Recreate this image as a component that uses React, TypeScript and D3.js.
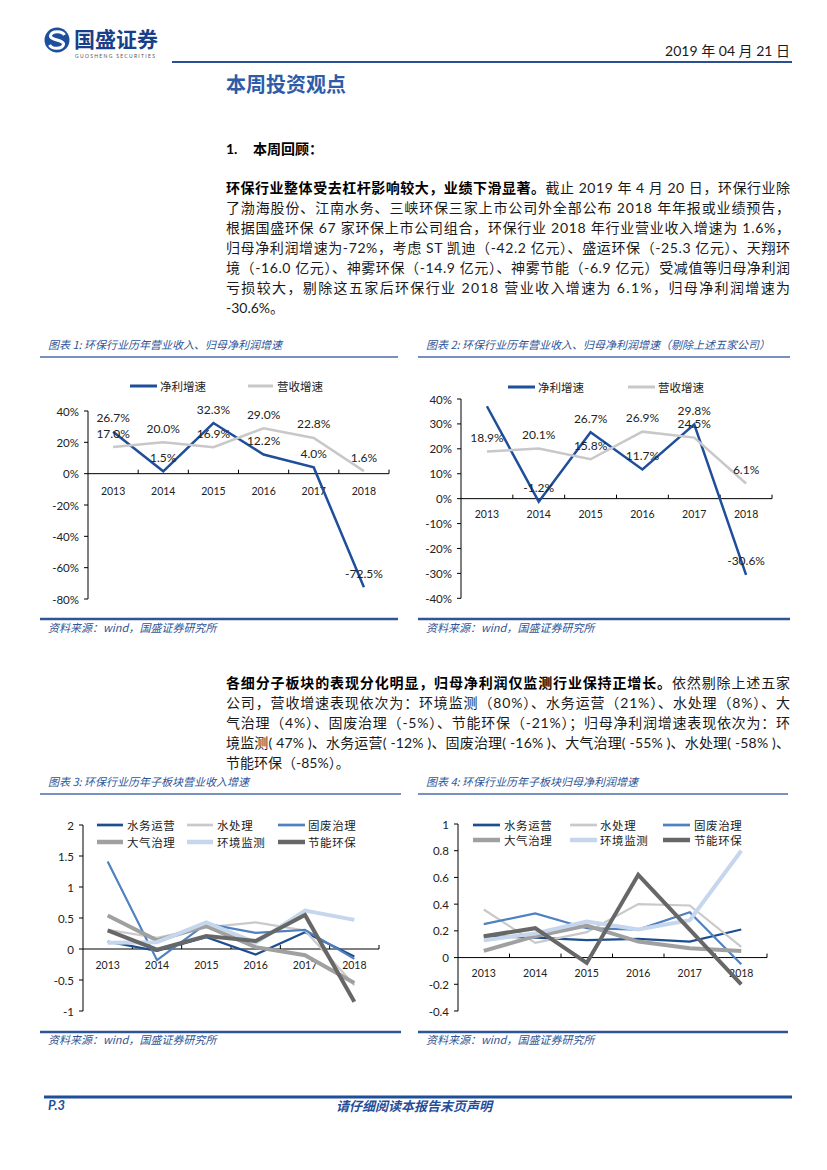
import React from 'react';
import * as d3 from 'd3';

// ---- data ----
const YEARS = ['2013', '2014', '2015', '2016', '2017', '2018'];

// chart 1: whole industry
const C1_PROFIT = [26.7, 1.5, 32.3, 12.2, 4.0, -72.5];
const C1_REVENUE = [17.0, 20.0, 16.9, 29.0, 22.8, 1.6];
const C1_TICKS = [40, 20, 0, -20, -40, -60, -80];

// chart 2: excluding five companies (2013 profit point carries no label)
const C2_PROFIT = [37.1, -1.2, 26.7, 11.7, 29.8, -30.6];
const C2_PROFIT_SHOW = [false, true, true, true, true, true];
const C2_REVENUE = [18.9, 20.1, 15.8, 26.9, 24.5, 6.1];
const C2_TICKS = [40, 30, 20, 10, 0, -10, -20, -30, -40];

// chart 3: sub-sectors
const C3_WATER_OPS = [0.12, -0.03, 0.19, -0.09, 0.27, -0.12];
const C3_WATER_TREAT = [0.31, 0.18, 0.35, 0.43, 0.30, -0.58];
const C3_SOLID = [1.41, -0.18, 0.41, 0.26, 0.31, -0.16];
const C3_AIR = [0.54, 0.14, 0.37, 0.03, -0.10, -0.55];
const C3_MONITOR = [0.10, 0.11, 0.43, 0.10, 0.62, 0.47];
const C3_ENERGY = [0.30, -0.01, 0.21, 0.13, 0.55, -0.85];
const C3_TICKS = [2, 1.5, 1, 0.5, 0, -0.5, -1];

// chart 4: sub-sectors
const C4_WATER_OPS = [0.16, 0.15, 0.13, 0.14, 0.12, 0.21];
const C4_WATER_TREAT = [0.36, 0.11, 0.19, 0.40, 0.39, 0.08];
const C4_SOLID = [0.25, 0.33, 0.22, 0.21, 0.34, -0.05];
const C4_AIR = [0.05, 0.16, 0.24, 0.12, 0.07, 0.05];
const C4_MONITOR = [0.13, 0.18, 0.27, 0.21, 0.28, 0.80];
const C4_ENERGY = [0.16, 0.22, -0.04, 0.62, 0.21, -0.20];
const C4_TICKS = [1, 0.8, 0.6, 0.4, 0.2, 0, -0.2, -0.4];

const SECTORS = ['水务运营', '水处理', '固废治理', '大气治理', '环境监测', '节能环保'];
const SECTOR_COLORS = ['#1f4e8f', '#c9c9c9', '#4f80c1', '#a0a0a0', '#c6d6ec', '#676767'];
const SECTOR_WIDTHS = [2.2, 2.2, 2.2, 4, 4, 4];

// ---- page text ----
type Seg = { t: string; b?: boolean };
const PARA1: Seg[][] = [
  [{ t: '环保行业整体受去杠杆影响较大，业绩下滑显著。', b: true }, { t: '截止 2019 年 4 月 20 日，环保行业除' }],
  [{ t: '了渤海股份、江南水务、三峡环保三家上市公司外全部公布 2018 年年报或业绩预告，' }],
  [{ t: '根据国盛环保 67 家环保上市公司组合，环保行业 2018 年行业营业收入增速为 1.6%，' }],
  [{ t: '归母净利润增速为-72%，考虑 ST 凯迪（-42.2 亿元）、盛运环保（-25.3 亿元）、天翔环' }],
  [{ t: '境（-16.0 亿元）、神雾环保（-14.9 亿元）、神雾节能（-6.9 亿元）受减值等归母净利润' }],
  [{ t: '亏损较大，剔除这五家后环保行业 2018 营业收入增速为 6.1%，归母净利润增速为' }],
  [{ t: '-30.6%。' }],
];
const PARA2: Seg[][] = [
  [{ t: '各细分子板块的表现分化明显，归母净利润仅监测行业保持正增长。', b: true }, { t: '依然剔除上述五家' }],
  [{ t: '公司，营收增速表现依次为：环境监测（80%）、水务运营（21%）、水处理（8%）、大' }],
  [{ t: '气治理（4%）、固废治理（-5%）、节能环保（-21%）；归母净利润增速表现依次为：环' }],
  [{ t: '境监测( 47% )、水务运营( -12% )、固废治理( -16% )、大气治理( -55% )、水处理( -58% )、' }],
  [{ t: '节能环保（-85%）。' }],
];

const NUM_FONT = "Lato, 'Noto Sans CJK SC', sans-serif";
const CJK_FONT = "'Noto Sans CJK SC', sans-serif";
const DARK_BLUE = '#1f4e9a';
const TITLE_BLUE = '#2f5597';

type Series = { name: string; values: number[]; color: string; width: number; show?: boolean[] };
type LegendItem = { lx1: number; lx2: number; y: number; tx: number };

interface ChartProps {
  x0: number; x1: number; yTop: number; yBottom: number;
  domain: [number, number];
  ticks: number[];
  fmt: (v: number) => string;
  series: Series[];
  labels: boolean;
  legend: LegendItem[];
  xLabelDy: number;
  legendSpacing?: number;
}

const LineChart: React.FC<ChartProps> = ({ x0, x1, yTop, yBottom, domain, ticks, fmt, series, labels, legend, xLabelDy, legendSpacing = 0 }) => {
  const x = d3.scaleBand<string>().domain(YEARS).range([x0, x1]);
  const cx = (c: string) => (x(c) as number) + x.bandwidth() / 2;
  const y = d3.scaleLinear().domain(domain).range([yBottom, yTop]);
  const y0 = y(0);
  const line = d3.line<number>().x((_, i) => cx(YEARS[i])).y(d => y(d));

  return (
    <g>
      {/* y axis */}
      <line x1={x0} x2={x0} y1={yTop} y2={yBottom} stroke="#000" strokeWidth={1} />
      {ticks.map(t => (
        <g key={t}>
          <line x1={x0 - 4} x2={x0} y1={y(t)} y2={y(t)} stroke="#000" strokeWidth={1} />
          <text x={x0 - 9} y={y(t)} textAnchor="end" dominantBaseline="central" fontFamily={NUM_FONT} fontSize={11.5} fill="#222">{fmt(t)}</text>
        </g>
      ))}
      {/* x axis */}
      <line x1={x0} x2={x1} y1={y0} y2={y0} stroke="#000" strokeWidth={1} />
      {YEARS.map(c => (
        <g key={c}>
          <line x1={(x(c) as number) + x.bandwidth()} x2={(x(c) as number) + x.bandwidth()} y1={y0 - 4} y2={y0} stroke="#000" strokeWidth={1} />
          <text x={cx(c)} y={y0 + xLabelDy} textAnchor="middle" dominantBaseline="central" fontFamily={NUM_FONT} fontSize={10.5} fill="#222">{c}</text>
        </g>
      ))}
      {/* series */}
      {series.map(s => (
        <path key={s.name} d={line(s.values) || ''} fill="none" stroke={s.color} strokeWidth={s.width} strokeLinejoin="miter" />
      ))}
      {/* data labels */}
      {labels && series.map(s => s.values.map((v, i) => (
        (s.show ? s.show[i] : true) ? (
          <text key={s.name + i} x={cx(YEARS[i])} y={y(v) - 14} textAnchor="middle" dominantBaseline="central" fontFamily={NUM_FONT} fontSize={12} fill="#222">{v.toFixed(1)}%</text>
        ) : null
      )))}
      {/* legend */}
      {legend.map((l, i) => (
        <g key={'lg' + i}>
          <line x1={l.lx1} x2={l.lx2} y1={l.y} y2={l.y} stroke={series[i].color} strokeWidth={series[i].width + 0.5} />
          <text x={l.tx} y={l.y} dominantBaseline="central" fontFamily={CJK_FONT} fontSize={11.5} letterSpacing={legendSpacing} fill="#222">{series[i].name}</text>
        </g>
      ))}
    </g>
  );
};

const Para: React.FC<{ lines: Seg[][]; top: number; step: number }> = ({ lines, top, step }) => (
  <g>
    {lines.map((ln, i) => (
      <text key={i} x={226} y={top + i * step} dominantBaseline="central" fontFamily={NUM_FONT} fontSize={14} fill="#1a1a1a"
        {...(i < lines.length - 1 ? { textLength: 564, lengthAdjust: 'spacing' } : {})}>
        {ln.map((s, j) => (
          <tspan key={j} fontWeight={s.b ? 700 : 400} fill={s.b ? '#000' : '#1a1a1a'}>{s.t}</tspan>
        ))}
      </text>
    ))}
  </g>
);

const ChartFrame: React.FC<{ x1: number; x2: number; title: string; titleY: number; lineY: number; srcLineY: number; srcY: number }> = ({ x1, x2, title, titleY, lineY, srcLineY, srcY }) => (
  <g>
    <text x={x1 + 8} y={titleY} dominantBaseline="central" fontFamily={CJK_FONT} fontStyle="italic" fontSize={11} fill={TITLE_BLUE}>{title}</text>
    <line x1={x1} x2={x2} y1={lineY} y2={lineY} stroke="#4a6ea8" strokeWidth={1.5} />
    <line x1={x1} x2={x2} y1={srcLineY} y2={srcLineY} stroke={TITLE_BLUE} strokeWidth={2.5} />
    <text x={x1 + 8} y={srcY} dominantBaseline="central" fontFamily={CJK_FONT} fontStyle="italic" fontSize={11} fill={TITLE_BLUE}>资料来源：wind，国盛证券研究所</text>
  </g>
);

const sectorSeries = (vals: number[][]): Series[] =>
  SECTORS.map((name, i) => ({ name, values: vals[i], color: SECTOR_COLORS[i], width: SECTOR_WIDTHS[i] }));

const App: React.FC = () => {
  const pct = (v: number) => `${v}%`;
  const num = (v: number) => `${v}`;

  const s1: Series[] = [
    { name: '净利增速', values: C1_PROFIT, color: DARK_BLUE, width: 2.5 },
    { name: '营收增速', values: C1_REVENUE, color: '#c8c8c8', width: 2.5 },
  ];
  const s2: Series[] = [
    { name: '净利增速', values: C2_PROFIT, color: DARK_BLUE, width: 2.5, show: C2_PROFIT_SHOW },
    { name: '营收增速', values: C2_REVENUE, color: '#c8c8c8', width: 2.5 },
  ];
  const s3 = sectorSeries([C3_WATER_OPS, C3_WATER_TREAT, C3_SOLID, C3_AIR, C3_MONITOR, C3_ENERGY]);
  const s4 = sectorSeries([C4_WATER_OPS, C4_WATER_TREAT, C4_SOLID, C4_AIR, C4_MONITOR, C4_ENERGY]);

  const legend3: LegendItem[] = [
    { lx1: 97, lx2: 123, y: 825, tx: 127 },
    { lx1: 187, lx2: 213, y: 825, tx: 217 },
    { lx1: 278, lx2: 305, y: 825, tx: 308 },
    { lx1: 97, lx2: 123, y: 842, tx: 127 },
    { lx1: 187, lx2: 213, y: 842, tx: 217 },
    { lx1: 278, lx2: 305, y: 842, tx: 308 },
  ];
  const legend4: LegendItem[] = [
    { lx1: 473, lx2: 500, y: 825, tx: 504 },
    { lx1: 570, lx2: 597, y: 825, tx: 600 },
    { lx1: 663, lx2: 690, y: 825, tx: 694 },
    { lx1: 473, lx2: 500, y: 840, tx: 504 },
    { lx1: 570, lx2: 597, y: 840, tx: 600 },
    { lx1: 663, lx2: 690, y: 840, tx: 694 },
  ];

  return (
    <svg width={827} height={1170} viewBox="0 0 827 1170" style={{ position: 'absolute', left: 0, top: 0, background: '#fff' }}>
      <rect x={0} y={0} width={827} height={1170} fill="#fff" />

      {/* header */}
      <circle cx={57} cy={40} r={12.5} fill="#1e4f9c" />
      <path d="M 64.5 35 C 62 30.5, 52 30.5, 50.5 35.5 C 49.5 40, 64.5 40, 63.5 44.5 C 62 49.5, 52 49.5, 49.5 45" fill="none" stroke="#fff" strokeWidth={3} />
      <text x={74} y={38} dominantBaseline="central" fontFamily={CJK_FONT} fontWeight={700} fontSize={21} fill="#1a3f8a">国盛证券</text>
      <text x={75} y={56} dominantBaseline="central" fontFamily={NUM_FONT} fontSize={5} letterSpacing={1.3} fill="#555">GUOSHENG SECURITIES</text>
      <text x={790} y={50} textAnchor="end" dominantBaseline="central" fontFamily={NUM_FONT} fontSize={14} fill="#1a1a1a">2019 年 04 月 21 日</text>
      <line x1={172} x2={792} y1={62} y2={62} stroke="#2b4f91" strokeWidth={2} />
      <text x={226} y={83} dominantBaseline="central" fontFamily={CJK_FONT} fontWeight={700} fontSize={20} fill="#2e5ca8">本周投资观点</text>
      <text x={226} y={148} dominantBaseline="central" fontFamily={NUM_FONT} fontWeight={700} fontSize={14} fill="#000">1.<tspan x={253}>本周回顾：</tspan></text>

      <Para lines={PARA1} top={186.5} step={20} />

      {/* charts 1, 2 */}
      <ChartFrame x1={40} x2={398} title="图表 1:  环保行业历年营业收入、归母净利润增速" titleY={344} lineY={357} srcLineY={619} srcY={627} />
      <ChartFrame x1={418} x2={790} title="图表 2:  环保行业历年营业收入、归母净利润增速（剔除上述五家公司）" titleY={344} lineY={357} srcLineY={619} srcY={627} />
      <LineChart x0={88} x1={389} yTop={411} yBottom={599} domain={[-80, 40]} ticks={C1_TICKS} fmt={pct}
        series={s1} labels={true} xLabelDy={17}
        legend={[{ lx1: 130, lx2: 157, y: 386, tx: 160 }, { lx1: 248, lx2: 273, y: 386, tx: 277 }]} />
      <LineChart x0={461} x1={772} yTop={399} yBottom={598.3} domain={[-40, 40]} ticks={C2_TICKS} fmt={pct}
        series={s2} labels={true} xLabelDy={15}
        legend={[{ lx1: 508, lx2: 535, y: 387, tx: 538 }, { lx1: 628, lx2: 655, y: 387, tx: 658 }]} />

      <Para lines={PARA2} top={682} step={20} />

      {/* charts 3, 4 */}
      <ChartFrame x1={40} x2={401} title="图表 3:  环保行业历年子板块营业收入增速" titleY={781} lineY={794} srcLineY={1032} srcY={1039} />
      <ChartFrame x1={418} x2={788} title="图表 4:  环保行业历年子板块归母净利润增速" titleY={781} lineY={794} srcLineY={1032} srcY={1039} />
      <LineChart x0={83} x1={379} yTop={825} yBottom={1011} domain={[-1, 2]} ticks={C3_TICKS} fmt={num}
        series={s3} labels={false} xLabelDy={16} legend={legend3} legendSpacing={0.6} />
      <LineChart x0={458} x1={767} yTop={824} yBottom={1011} domain={[-0.4, 1]} ticks={C4_TICKS} fmt={num}
        series={s4} labels={false} xLabelDy={15} legend={legend4} legendSpacing={0.6} />

      {/* footer */}
      <line x1={44} x2={792} y1={1097} y2={1097} stroke={DARK_BLUE} strokeWidth={3} />
      <text x={48} y={1105} dominantBaseline="central" fontFamily={NUM_FONT} fontStyle="italic" fontWeight={700} fontSize={13} fill={DARK_BLUE}>P.3</text>
      <text x={414} y={1105} textAnchor="middle" dominantBaseline="central" fontFamily={CJK_FONT} fontStyle="italic" fontWeight={700} fontSize={13} fill={DARK_BLUE}>请仔细阅读本报告末页声明</text>
    </svg>
  );
};

export default App;
